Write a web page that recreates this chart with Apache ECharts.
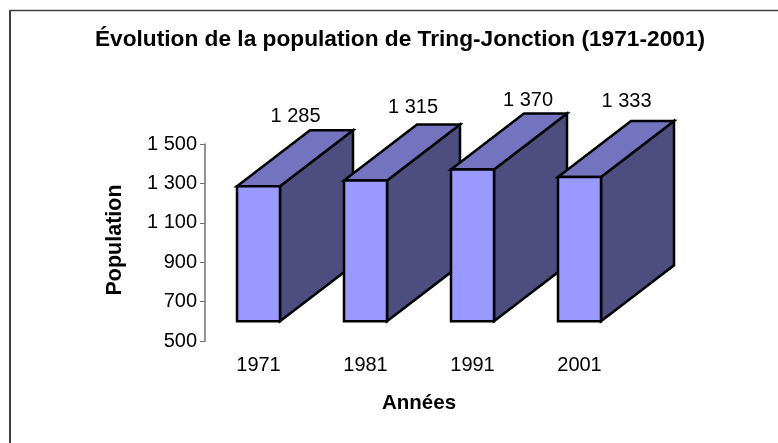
<!DOCTYPE html>
<html>
<head>
<meta charset="utf-8">
<style>html,body{margin:0;padding:0;background:#fff}#c{width:778px;height:443px}</style>
<script src="https://cdn.jsdelivr.net/npm/echarts@6/dist/echarts.min.js"></script>
</head>
<body>
<div id="c"></div>
<script>
const categories = ['1971', '1981', '1991', '2001'];
const population = [1285, 1315, 1370, 1333];
const baseValue = 600;
const yTicks = [500, 700, 900, 1100, 1300, 1500];
const titleText = 'Évolution de la population de Tring-Jonction (1971-2001)';
const yName = 'Population';
const xName = 'Années';

const FONT = '"Liberation Sans", Arial, sans-serif';
const fmt = v => String(v).replace(/\B(?=(\d{3})+$)/g, ' ');
const DX = 73, DY = -56, BAR_W = 43;
// hand-placed data labels in the reference: nudges from the bar's top
const LABEL_DX = [37, 47.5, 55.5, 47];
const LABEL_DY = [-14, -16.5, -13, -19];

const chart = echarts.init(document.getElementById('c'), null, {renderer: 'canvas'});
chart.setOption({
  animation: false,
  backgroundColor: '#fff',
  title: {
    text: titleText, left: 395, top: 23, textAlign: 'center',
    textStyle: {fontFamily: FONT, fontWeight: 'bold', fontSize: 22.7, color: '#000'}
  },
  grid: {left: 205, top: 144, width: 428, height: 197},
  xAxis: {
    type: 'category', data: categories,
    axisLine: {show: false}, axisTick: {show: false},
    axisLabel: {fontFamily: FONT, fontSize: 20, color: '#000', margin: 14},
    name: xName, nameLocation: 'middle', nameGap: 52,
    nameTextStyle: {fontFamily: FONT, fontWeight: 'bold', fontSize: 20.5, color: '#000'}
  },
  yAxis: {
    type: 'value', min: 500, max: 1500,
    splitLine: {show: false},
    axisLine: {show: true, lineStyle: {color: '#707070', width: 1.5}},
    axisTick: {show: true, length: 5, lineStyle: {color: '#707070', width: 1}, customValues: yTicks},
    axisLabel: {fontFamily: FONT, fontSize: 20, color: '#000', margin: 8, padding: [2, 0, 0, 0], customValues: yTicks, formatter: fmt},
    name: yName, nameLocation: 'middle', nameGap: 79,
    nameTextStyle: {fontFamily: FONT, fontWeight: 'bold', fontSize: 21.5, color: '#000', padding: [0, 0, 0, 5]}
  },
  series: [{
    type: 'custom',
    coordinateSystem: 'cartesian2d',
    data: population.map((v, i) => [i, v]),
    clip: false,
    renderItem(params, api) {
      const i = params.dataIndex;
      const top = api.coord([api.value(0), api.value(1)]);
      const base = api.coord([api.value(0), baseValue]);
      const x0 = top[0] - BAR_W / 2, x1 = top[0] + BAR_W / 2, y0 = top[1], y1 = base[1];
      const line = {stroke: '#000', lineWidth: 2.5, lineJoin: 'miter'};
      return {
        type: 'group',
        children: [
          {type: 'polygon', shape: {points: [[x1, y0], [x1 + DX, y0 + DY], [x1 + DX, y1 + DY], [x1, y1]]},
           style: {fill: '#4D4D80', ...line}},
          {type: 'polygon', shape: {points: [[x0, y0], [x0 + DX, y0 + DY], [x1 + DX, y0 + DY], [x1, y0]]},
           style: {fill: '#7373BF', ...line}},
          {type: 'rect', shape: {x: x0, y: y0, width: BAR_W, height: y1 - y0},
           style: {fill: '#9999FF', ...line}},
          {type: 'text', style: {x: top[0] + LABEL_DX[i], y: y0 + DY + LABEL_DY[i], text: fmt(api.value(1)),
            fill: '#000', font: '20px ' + FONT, align: 'center', verticalAlign: 'middle'}}
        ]
      };
    }
  }],
  graphic: [
    {type: 'line', silent: true, shape: {x1: 10, y1: 10.5, x2: 778, y2: 10.5}, style: {stroke: '#404040', lineWidth: 1.5}},
    {type: 'line', silent: true, shape: {x1: 10, y1: 10, x2: 10, y2: 443}, style: {stroke: '#404040', lineWidth: 2}}
  ]
});
</script>
</body>
</html>
